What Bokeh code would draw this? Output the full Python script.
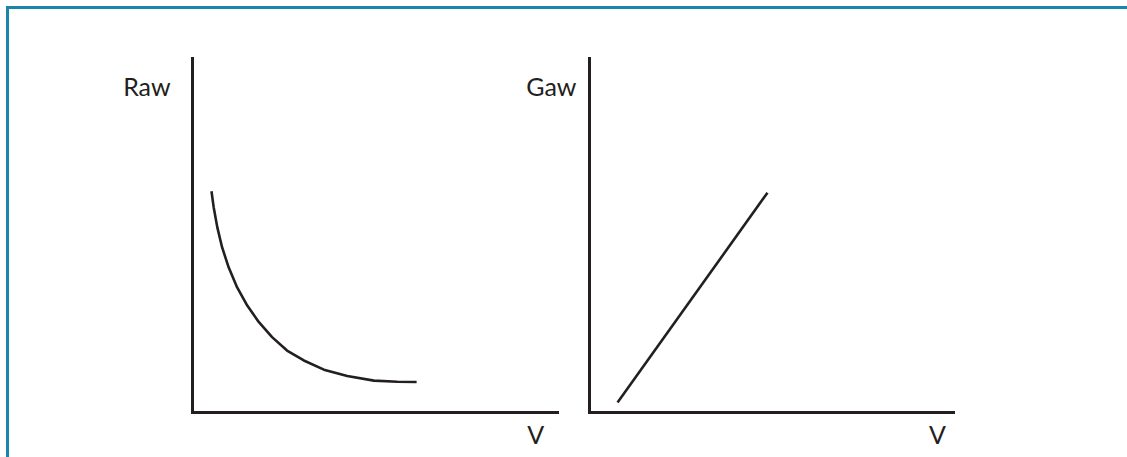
from bokeh.plotting import figure
from bokeh.layouts import row
from bokeh.models import Range1d, LinearAxis, FixedTicker
from bokeh.core.properties import value
from bokeh.embed import file_html
from bokeh.resources import INLINE

# Airway resistance (Raw) against lung volume (V), arbitrary units
v_raw = [5.2, 5.8, 6.8, 8.1, 9.9, 12.2, 15.0, 18.2, 21.8, 25.9, 30.5, 36.0, 42.4, 49.7, 56.1, 61.4]
raw = [62.5, 58.0, 52.3, 46.7, 41.0, 35.4, 30.2, 25.5, 21.3, 17.5, 14.7, 12.1, 10.3, 9.0, 8.7, 8.6]

# Airway conductance (Gaw) against lung volume (V), arbitrary units
v_gaw = [7.7, 48.9]
gaw = [2.8, 62.1]

y_labels = ["Raw", "Gaw"]
x_label = "V"

INK = "#231f20"
TEAL = "#1886a8"
FONT = "Lato"

# canvas geometry (pixels inside the framed box)
W, H = 1118, 448
ORIGIN_Y = 403          # pixel row of both x axes
PLOT_H = 354            # height of each axis box
LEFT_X0, LEFT_W = 183, 365
RIGHT_X0, RIGHT_W = 580, 364


def span(x0, w, total):
    # data range (axis box = 0..100) that fills the whole canvas
    return Range1d(-x0 / w * 100, (total - x0) / w * 100)


p = figure(width=W, height=H, output_backend="svg", toolbar_location=None,
           x_axis_type=None, y_axis_type=None,
           x_range=span(LEFT_X0, LEFT_W, W),
           y_range=Range1d(-(H - ORIGIN_Y) / PLOT_H * 100, ORIGIN_Y / PLOT_H * 100),
           min_border=0, min_border_left=0, min_border_right=0,
           min_border_top=0, min_border_bottom=0)
p.extra_x_ranges = {"right": span(RIGHT_X0, RIGHT_W, W)}
p.grid.visible = False
p.outline_line_color = None
p.background_fill_color = "white"
p.border_fill_color = "white"


def style(ax):
    ax.ticker = FixedTicker(ticks=[])
    ax.axis_line_width = 3
    ax.axis_line_color = INK
    ax.axis_line_cap = "square"
    ax.major_tick_line_color = None
    ax.minor_tick_line_color = None
    ax.major_tick_out = 0
    ax.major_tick_in = 0
    ax.major_label_standoff = 0
    ax.bounds = (0, 100)
    ax.fixed_location = 0
    return ax


for rng in ("default", "right"):
    p.add_layout(style(LinearAxis(x_range_name=rng)), "left")
    p.add_layout(style(LinearAxis(x_range_name=rng)), "below")

p.line(v_raw, raw, line_width=2.6, line_color=INK)
p.line(v_gaw, gaw, line_width=2.6, line_color=INK, x_range_name="right")

text_style = dict(text_baseline="middle", text_font=value(FONT),
                  text_font_size=value("25px"), text_color=INK)

p.text(x=[-6.0], y=[92.1], text=[y_labels[0]], text_align="right", **text_style)
p.text(x=[94.0], y=[-6.2], text=[x_label], text_align="center", **text_style)
p.text(x=[-3.6], y=[92.1], text=[y_labels[1]], text_align="right",
       x_range_name="right", **text_style)
p.text(x=[95.6], y=[-6.2], text=[x_label], text_align="center",
       x_range_name="right", **text_style)

layout = row(p, styles={
    "border-top": f"3px solid {TEAL}",
    "border-left": f"3px solid {TEAL}",
    "margin-top": "6px",
    "margin-left": "6px",
    "background": "white",
})

open("out.html", "w").write(file_html(layout, INLINE))
